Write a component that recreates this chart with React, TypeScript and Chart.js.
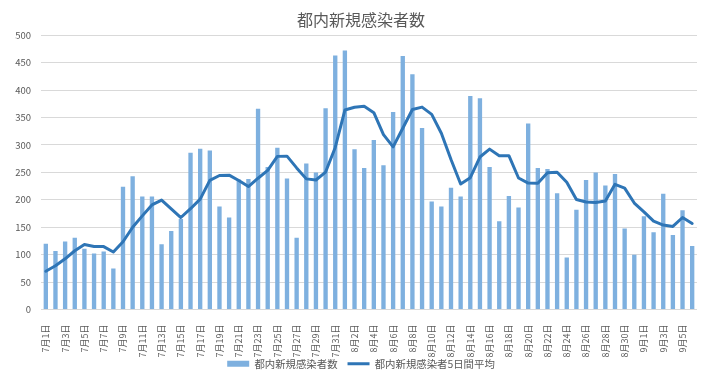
import React, { useEffect, useRef } from 'react';
import { Chart, registerables } from 'chart.js';

Chart.register(...registerables);

const TITLE = '都内新規感染者数';
const BAR_LABEL = '都内新規感染者数';
const LINE_LABEL = '都内新規感染者5日間平均';

const DATES = [
  '7月1日', '7月2日', '7月3日', '7月4日', '7月5日', '7月6日', '7月7日', '7月8日', '7月9日', '7月10日',
  '7月11日', '7月12日', '7月13日', '7月14日', '7月15日', '7月16日', '7月17日', '7月18日', '7月19日', '7月20日',
  '7月21日', '7月22日', '7月23日', '7月24日', '7月25日', '7月26日', '7月27日', '7月28日', '7月29日', '7月30日',
  '7月31日', '8月1日', '8月2日', '8月3日', '8月4日', '8月5日', '8月6日', '8月7日', '8月8日', '8月9日',
  '8月10日', '8月11日', '8月12日', '8月13日', '8月14日', '8月15日', '8月16日', '8月17日', '8月18日', '8月19日',
  '8月20日', '8月21日', '8月22日', '8月23日', '8月24日', '8月25日', '8月26日', '8月27日', '8月28日', '8月29日',
  '8月30日', '8月31日', '9月1日', '9月2日', '9月3日', '9月4日', '9月5日', '9月6日',
];

const DAILY_CASES = [
  120, 107, 124, 131, 111, 102, 106, 75, 224, 243,
  206, 206, 119, 143, 165, 286, 293, 290, 188, 168,
  237, 238, 366, 260, 295, 239, 131, 266, 250, 367,
  463, 472, 292, 258, 309, 263, 360, 462, 429, 331,
  197, 188, 222, 206, 389, 385, 260, 161, 207, 186,
  339, 258, 256, 212, 95, 182, 236, 250, 226, 247,
  148, 100, 170, 141, 211, 136, 181, 116,
];

const AVG_5DAY = [
  69.8, 79.8, 92.6, 107.2, 118.6, 115.0, 114.8, 105.0, 123.6, 150.0,
  170.8, 190.8, 199.6, 183.4, 167.8, 183.8, 201.2, 235.4, 244.4, 245.0,
  235.2, 224.2, 239.4, 253.8, 279.2, 279.6, 258.2, 238.2, 236.2, 250.6,
  295.4, 363.6, 368.8, 370.4, 358.8, 318.8, 296.4, 330.4, 364.6, 369.0,
  355.8, 321.4, 273.4, 228.8, 240.4, 278.0, 292.4, 280.2, 280.4, 239.8,
  230.6, 230.2, 249.2, 250.2, 232.0, 200.6, 196.2, 195.0, 197.8, 228.2,
  221.4, 194.2, 178.2, 161.2, 154.0, 151.6, 167.8, 157.0,
];

const Y_MIN = 0;
const Y_MAX = 500;
const Y_STEP = 50;

const BAR_COLOR = '#7eb0df';
const LINE_COLOR = '#2e75b6';
const TEXT_COLOR = '#595959';
const GRID_COLOR = '#d9d9d9';
const FONT = "'Noto Sans CJK JP', 'Noto Sans', sans-serif";

export default function App() {
  const canvasRef = useRef<HTMLCanvasElement | null>(null);

  useEffect(() => {
    if (!canvasRef.current) return;
    const chart = new Chart(canvasRef.current, {
      type: 'bar',
      data: {
        labels: DATES,
        datasets: [
          {
            type: 'bar',
            label: BAR_LABEL,
            data: DAILY_CASES,
            backgroundColor: BAR_COLOR,
            borderWidth: 0,
            barPercentage: 0.45,
            categoryPercentage: 1.0,
            order: 1,
          },
          {
            type: 'line',
            label: LINE_LABEL,
            data: AVG_5DAY,
            borderColor: LINE_COLOR,
            backgroundColor: LINE_COLOR,
            borderWidth: 3,
            pointRadius: 0,
            tension: 0,
            borderJoinStyle: 'round',
            borderCapStyle: 'round',
            fill: false,
            order: 0,
          },
        ],
      } as any,
      options: {
        animation: false,
        responsive: false,
        devicePixelRatio: 1,
        layout: { padding: { left: 0, right: 0, top: 0, bottom: 0 } },
        plugins: {
          title: {
            display: true,
            text: TITLE,
            color: TEXT_COLOR,
            font: { family: FONT, size: 16, weight: 'normal' },
            padding: { top: 10, bottom: 6 },
          },
          legend: {
            display: true,
            position: 'bottom',
            labels: {
              color: TEXT_COLOR,
              font: { family: FONT, size: 10.4 },
              usePointStyle: true,
              pointStyleWidth: 22,
              boxHeight: 6,
              padding: 10,
              generateLabels: () => [
                {
                  text: BAR_LABEL,
                  fillStyle: BAR_COLOR,
                  strokeStyle: BAR_COLOR,
                  lineWidth: 0,
                  pointStyle: 'rect',
                  hidden: false,
                  datasetIndex: 0,
                  fontColor: TEXT_COLOR,
                } as any,
                {
                  text: LINE_LABEL,
                  fillStyle: LINE_COLOR,
                  strokeStyle: LINE_COLOR,
                  lineWidth: 3,
                  pointStyle: 'line',
                  hidden: false,
                  datasetIndex: 1,
                  fontColor: TEXT_COLOR,
                } as any,
              ],
            },
          },
          tooltip: { enabled: false },
        },
        scales: {
          x: {
            grid: { display: false, drawTicks: false },
            border: { display: false },
            ticks: {
              autoSkip: false,
              maxRotation: 90,
              minRotation: 90,
              padding: 15,
              color: TEXT_COLOR,
              font: { family: FONT, size: 9 },
              callback: (_v: any, idx: number) => (idx % 2 === 0 ? DATES[idx] : ''),
            },
            afterFit: (scale: any) => {
              scale.height = 39;
              scale._computeLabelArea = () => undefined;
            },
          },
          y: {
            min: Y_MIN,
            max: Y_MAX,
            grid: { color: GRID_COLOR, lineWidth: 1, drawTicks: false },
            border: { display: false },
            ticks: {
              stepSize: Y_STEP,
              padding: 10,
              color: TEXT_COLOR,
              font: { family: FONT, size: 9.5 },
            },
            afterFit: (scale: any) => {
              scale.width = 41;
            },
          },
          yRightSpace: {
            position: 'right',
            display: true,
            grid: { display: false, drawTicks: false },
            border: { display: false },
            ticks: { display: false },
            afterFit: (scale: any) => {
              scale.width = 25;
            },
          },
        },
      } as any,
    });
    return () => chart.destroy();
  }, []);

  return (
    <div style={{ position: 'fixed', left: 0, top: 0, width: 722, height: 379, background: '#fff' }}>
      <canvas ref={canvasRef} width={722} height={379} style={{ width: 722, height: 379 }} />
    </div>
  );
}
